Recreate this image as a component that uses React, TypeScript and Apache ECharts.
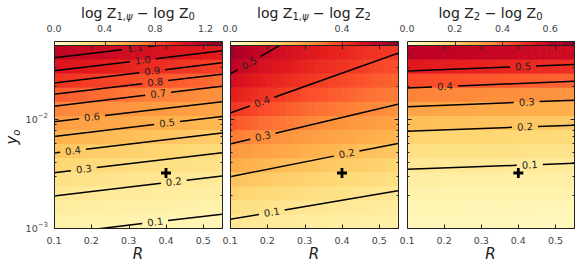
import React, { useEffect, useRef } from 'react';
import * as echarts from 'echarts';

const R_MIN = 0.1;
const R_MAX = 0.55;
const Y_MIN = 0.001;
const Y_MAX = 0.048;
const xTicks = [0.1, 0.2, 0.3, 0.4, 0.5];
const yMajorTicks = [0.001, 0.01];
const yMinorTicks = [0.002, 0.003, 0.004, 0.005, 0.006, 0.007, 0.008, 0.009, 0.02, 0.03, 0.04];

const panelTitles = [
  '{n|log Z}{s|1,}{si|ψ}{n| − log Z}{s|0}',
  '{n|log Z}{s|1,}{si|ψ}{n| − log Z}{s|2}',
  '{n|log Z}{s|2}{n| − log Z}{s|0}',
];

// Panel 1: log Z1,psi - log Z0  (contour y at R=0.1 and at R=0.55)
const levels1 = [0.1, 0.2, 0.3, 0.4, 0.5, 0.6, 0.7, 0.8, 0.9, 1.0, 1.1];
const yLeft1 = [8.8e-4, 1.97e-3, 3.22e-3, 4.88e-3, 6.92e-3, 9.48e-3, 1.315e-2, 1.694e-2, 2.153e-2, 2.78e-2, 3.66e-2];
const yRight1 = [1.34e-3, 3.0e-3, 4.92e-3, 7.45e-3, 1.057e-2, 1.449e-2, 2.01e-2, 2.59e-2, 3.29e-2, 4.25e-2, 5.6e-2];
const labelR1 = [0.371, 0.421, 0.18, 0.151, 0.403, 0.202, 0.379, 0.371, 0.363, 0.338, 0.317];
const cbMax1 = 1.33;
const cbStep1 = 0.4;

// Panel 2: log Z1,psi - log Z2
const levels2 = [0.1, 0.2, 0.3, 0.4, 0.5];
const yLeft2 = [1.2e-3, 2.96e-3, 5.9e-3, 1.135e-2, 2.59e-2];
const yRight2 = [2.2e-3, 5.98e-3, 1.374e-2, 4.04e-2, 0.202];
const labelR2 = [0.212, 0.4125, 0.188, 0.186, 0.151];
const cbMax2 = 0.6;
const cbStep2 = 0.4;

// Panel 3: log Z2 - log Z0
const levels3 = [0.1, 0.2, 0.3, 0.4, 0.5];
const yLeft3 = [3.46e-3, 7.76e-3, 1.297e-2, 1.936e-2, 2.77e-2];
const yRight3 = [3.93e-3, 8.81e-3, 1.494e-2, 2.23e-2, 3.18e-2];
const labelR3 = [0.431, 0.418, 0.4225, 0.2024, 0.4126];
const cbMax3 = 0.7;
const cbStep3 = 0.2;

const markerR = 0.4;
const markerY = 0.0032;

const YLORRD = ['#ffffcc', '#ffeda0', '#fed976', '#feb24c', '#fd8d3c', '#fc4e2a', '#e31a1c', '#bd0026', '#800026'];

function hexToRgb(h: string) {
  return [parseInt(h.slice(1, 3), 16), parseInt(h.slice(3, 5), 16), parseInt(h.slice(5, 7), 16)];
}
const STOPS = YLORRD.map(hexToRgb);
function cmap(t: number) {
  const c = Math.max(0, Math.min(1, t));
  const s = c * 8;
  const i = Math.min(7, Math.floor(s));
  const f = s - i;
  const a = STOPS[i];
  const b = STOPS[i + 1];
  const r = Math.round(a[0] + (b[0] - a[0]) * f);
  const g = Math.round(a[1] + (b[1] - a[1]) * f);
  const bl = Math.round(a[2] + (b[2] - a[2]) * f);
  return `rgb(${r},${g},${bl})`;
}

function fieldValue(levels: number[], yL: number[], yR: number[], R: number, ly: number) {
  const t = (R - R_MIN) / (R_MAX - R_MIN);
  const ls = levels.map((_, k) => Math.log10(yL[k]) + (Math.log10(yR[k]) - Math.log10(yL[k])) * t);
  const n = levels.length;
  if (ly < ls[0]) {
    // below the lowest contour: continue in log(value) space
    const slope = (Math.log10(levels[1]) - Math.log10(levels[0])) / (ls[1] - ls[0]);
    return Math.pow(10, Math.log10(levels[0]) + slope * (ly - ls[0]));
  }
  let k = n - 2;
  for (let i = 0; i < n - 1; i++) {
    if (ly >= ls[i] && ly < ls[i + 1]) { k = i; break; }
  }
  return levels[k] + ((levels[k + 1] - levels[k]) * (ly - ls[k])) / (ls[k + 1] - ls[k]);
}

const panels = [
  { left: 54, width: 168, levels: levels1, yL: yLeft1, yR: yRight1, labelR: labelR1, cbMax: cbMax1, cbStep: cbStep1 },
  { left: 230, width: 168, levels: levels2, yL: yLeft2, yR: yRight2, labelR: labelR2, cbMax: cbMax2, cbStep: cbStep2 },
  { left: 407, width: 167, levels: levels3, yL: yLeft3, yR: yRight3, labelR: labelR3, cbMax: cbMax3, cbStep: cbStep3 },
];

const PLOT_TOP = 45;
const PLOT_H = 183;
const CB_TOP = 41;
const CB_H = 4;
const FONT = 'DejaVu Sans';
const N_ROWS = 13;
const N_COLS = 24;

function px(v: number) {
  return Math.round(v) + 0.5;
}

function isMultiple(v: number, step: number) {
  const q = v / step;
  return Math.abs(q - Math.round(q)) < 1e-6;
}

export default function App() {
  const ref = useRef<HTMLDivElement>(null);
  useEffect(() => {
    document.body.style.margin = '0';
    const chart = echarts.init(ref.current!, undefined, { renderer: 'svg' });

    const grids: any[] = [];
    const xAxes: any[] = [];
    const yAxes: any[] = [];
    const series: any[] = [];
    const graphics: any[] = [];

    panels.forEach((p, i) => {
      grids.push({ left: p.left, top: PLOT_TOP, width: p.width, height: PLOT_H, containLabel: false, outerBoundsMode: 'none' });
      xAxes.push({
        type: 'value', gridIndex: i, min: R_MIN, max: R_MAX, interval: 0.1,
        axisLine: { show: false }, axisTick: { show: false }, splitLine: { show: false },
        axisLabel: {
          fontSize: 9.5, color: '#444', margin: 7, fontFamily: FONT,
          formatter: (v: number) => (isMultiple(v, 0.1) ? v.toFixed(1) : ''),
        },
      });
      yAxes.push({
        type: 'log', logBase: 10, gridIndex: i, min: Y_MIN, max: Y_MAX,
        axisLine: { show: false }, axisTick: { show: false }, splitLine: { show: false }, minorTick: { show: false },
        axisLabel: {
          show: i === 0, margin: 6, fontFamily: FONT,
          formatter: (v: number) => {
            const e = Math.log10(v);
            if (Math.abs(e - Math.round(e)) > 1e-6) return '';
            return '{a|10}{b|−' + Math.abs(Math.round(e)) + '}';
          },
          rich: {
            a: { fontSize: 9.5, color: '#444', fontFamily: FONT, lineHeight: 11, verticalAlign: 'bottom' },
            b: { fontSize: 7, color: '#444', fontFamily: FONT, lineHeight: 8, padding: [0, 0, 5, 0], verticalAlign: 'bottom' },
          },
        },
      });
    });

    panels.forEach((p, i) => {
      grids.push({ left: p.left, top: CB_TOP, width: p.width, height: CB_H, containLabel: false, outerBoundsMode: 'none' });
      xAxes.push({
        type: 'value', gridIndex: 3 + i, position: 'top', min: 0, max: p.cbMax, interval: p.cbStep,
        axisLine: { show: false }, axisTick: { show: false }, splitLine: { show: false },
        axisLabel: {
          fontSize: 9.5, color: '#444', margin: 8, fontFamily: FONT,
          formatter: (v: number) => (isMultiple(v, p.cbStep) ? v.toFixed(1) : ''),
        },
      });
      yAxes.push({ type: 'value', gridIndex: 3 + i, min: 0, max: 1, show: false });
    });

    panels.forEach((p, i) => {
      // heat cells
      const lyMin = Math.log10(Y_MIN);
      const lyMax = Math.log10(Y_MAX);
      const cells: number[][] = [];
      for (let r = 0; r < N_ROWS; r++) {
        const la = lyMin + ((lyMax - lyMin) * r) / N_ROWS;
        const lb = lyMin + ((lyMax - lyMin) * (r + 1)) / N_ROWS;
        for (let c = 0; c < N_COLS; c++) {
          const r0 = R_MIN + ((R_MAX - R_MIN) * c) / N_COLS;
          const r1 = R_MIN + ((R_MAX - R_MIN) * (c + 1)) / N_COLS;
          const v = Math.max(0, fieldValue(p.levels, p.yL, p.yR, (r0 + r1) / 2, (la + lb) / 2));
          cells.push([r0, Math.pow(10, la), r1, Math.pow(10, lb), v]);
        }
      }
      series.push({
        type: 'custom', xAxisIndex: i, yAxisIndex: i, z: 1, clip: true,
        encode: { x: [0, 2], y: [1, 3] },
        data: cells,
        renderItem: (params: any, api: any) => {
          const a = api.coord([api.value(0), api.value(3)]);
          const b = api.coord([api.value(2), api.value(1)]);
          return {
            type: 'rect',
            shape: { x: a[0], y: a[1], width: b[0] - a[0] + 0.6, height: b[1] - a[1] + 0.6 },
            style: { fill: cmap(api.value(4) / p.cbMax) },
          };
        },
      });

      // contours
      series.push({
        type: 'custom', xAxisIndex: i, yAxisIndex: i, z: 3, clip: true,
        encode: { x: [0, 2], y: [1, 3] },
        data: p.levels.map((lv, k) => [R_MIN, p.yL[k], R_MAX, p.yR[k], p.labelR[k], lv]),
        renderItem: (params: any, api: any) => {
          const a = api.coord([api.value(0), api.value(1)]);
          const b = api.coord([api.value(2), api.value(3)]);
          const t = (api.value(4) - R_MIN) / (R_MAX - R_MIN);
          const lx = a[0] + (b[0] - a[0]) * t;
          const ly = a[1] + (b[1] - a[1]) * t;
          const dx = b[0] - a[0];
          const dy = b[1] - a[1];
          const L = Math.hypot(dx, dy);
          const ux = dx / L;
          const uy = dy / L;
          const g = 13;
          const ls = { stroke: '#000', lineWidth: 1.5 };
          return {
            type: 'group',
            children: [
              { type: 'line', shape: { x1: a[0], y1: a[1], x2: lx - ux * g, y2: ly - uy * g }, style: ls },
              { type: 'line', shape: { x1: lx + ux * g, y1: ly + uy * g, x2: b[0], y2: b[1] }, style: ls },
              {
                type: 'text', x: lx, y: ly, rotation: -Math.atan2(uy, ux),
                style: { text: Number(api.value(5)).toFixed(1), fontSize: 10, fontFamily: FONT, fill: '#222', align: 'center', verticalAlign: 'middle' },
              },
            ],
          };
        },
      });

      // marker
      series.push({
        type: 'scatter', xAxisIndex: i, yAxisIndex: i, z: 4,
        symbol: 'path://M3.6,0H6.4V3.6H10V6.4H6.4V10H3.6V6.4H0V3.6H3.6Z', symbolSize: 10,
        itemStyle: { color: '#000', opacity: 1 },
        data: [[markerR, markerY]],
      });

      // frame and ticks
      series.push({
        type: 'custom', xAxisIndex: i, yAxisIndex: i, z: 5, clip: false,
        data: [[R_MIN, Y_MIN]],
        renderItem: (params: any, api: any) => {
          const tl = api.coord([R_MIN, Y_MAX]);
          const br = api.coord([R_MAX, Y_MIN]);
          const left = px(tl[0]);
          const right = px(br[0]);
          const top = px(tl[1]);
          const bottom = px(br[1]);
          const st = { stroke: '#222', lineWidth: 1 };
          const ch: any[] = [];
          xTicks.forEach((v) => {
            const x = px(api.coord([v, Y_MIN])[0]);
            ch.push({ type: 'line', shape: { x1: x, y1: bottom, x2: x, y2: bottom - 4 }, style: st });
            ch.push({ type: 'line', shape: { x1: x, y1: top, x2: x, y2: top + 4 }, style: st });
          });
          yMajorTicks.forEach((v) => {
            const y = px(api.coord([R_MIN, v])[1]);
            ch.push({ type: 'line', shape: { x1: left, y1: y, x2: left + 4, y2: y }, style: st });
            ch.push({ type: 'line', shape: { x1: right, y1: y, x2: right - 4, y2: y }, style: st });
          });
          yMinorTicks.forEach((v) => {
            const y = px(api.coord([R_MIN, v])[1]);
            ch.push({ type: 'line', shape: { x1: left, y1: y, x2: left + 2, y2: y }, style: st });
            ch.push({ type: 'line', shape: { x1: right, y1: y, x2: right - 2, y2: y }, style: st });
          });
          ch.push({ type: 'rect', shape: { x: left, y: top, width: right - left, height: bottom - top }, style: { fill: 'none', stroke: '#222', lineWidth: 1 } });
          return { type: 'group', children: ch };
        },
      });

      // colorbar
      series.push({
        type: 'custom', xAxisIndex: 3 + i, yAxisIndex: 3 + i, z: 5, clip: false,
        data: [[0, 0]],
        renderItem: (params: any, api: any) => {
          const ch: any[] = [];
          const N = 60;
          for (let s = 0; s < N; s++) {
            const v0 = (p.cbMax * s) / N;
            const v1 = (p.cbMax * (s + 1)) / N;
            const a = api.coord([v0, 1]);
            const b = api.coord([v1, 0]);
            ch.push({ type: 'rect', shape: { x: a[0], y: a[1], width: b[0] - a[0] + 0.5, height: b[1] - a[1] }, style: { fill: cmap((v0 + v1) / 2 / p.cbMax) } });
          }
          const tl = api.coord([0, 1]);
          const br = api.coord([p.cbMax, 0]);
          for (let v = p.cbStep; v < p.cbMax - 1e-6; v += p.cbStep) {
            const x = px(api.coord([v, 0])[0]);
            ch.push({ type: 'line', shape: { x1: x, y1: tl[1], x2: x, y2: br[1] }, style: { stroke: '#333', lineWidth: 1 } });
          }
          ch.push({ type: 'rect', shape: { x: px(tl[0]), y: px(tl[1]), width: Math.round(br[0] - tl[0]), height: Math.round(br[1] - tl[1]) }, style: { fill: 'none', stroke: '#222', lineWidth: 1 } });
          return { type: 'group', children: ch };
        },
      });

      // titles and axis labels
      const cx = p.left + p.width / 2;
      graphics.push({
        type: 'text', x: cx, y: 13.5,
        style: {
          text: panelTitles[i], align: 'center', verticalAlign: 'middle',
          rich: {
            n: { fontSize: 14, fontFamily: FONT, fill: '#222', color: '#222', lineHeight: 16, verticalAlign: 'top' },
            s: { fontSize: 10, fontFamily: FONT, fill: '#222', color: '#222', lineHeight: 10, padding: [6, 0, 0, 0], verticalAlign: 'top' },
            si: { fontSize: 10, fontFamily: FONT, fontStyle: 'italic', fill: '#222', color: '#222', lineHeight: 10, padding: [6, 0, 0, 0], verticalAlign: 'top' },
          },
        },
      });
      graphics.push({
        type: 'text', x: cx, y: 254,
        style: { text: 'R', fontSize: 15, fontStyle: 'italic', fontFamily: FONT, fill: '#222', align: 'center', verticalAlign: 'middle' },
      });
    });

    graphics.push({
      type: 'text', x: 13, y: 137, rotation: Math.PI / 2,
      style: {
        text: '{n|y}{s|o}', align: 'center', verticalAlign: 'middle',
        rich: {
          n: { fontSize: 15, fontStyle: 'italic', fontFamily: FONT, fill: '#222', color: '#222', lineHeight: 17, verticalAlign: 'top' },
          s: { fontSize: 10, fontStyle: 'italic', fontFamily: FONT, fill: '#222', color: '#222', lineHeight: 10, padding: [7, 0, 0, 0], verticalAlign: 'top' },
        },
      },
    });

    chart.setOption({
      animation: false,
      textStyle: { fontFamily: FONT },
      grid: grids,
      xAxis: xAxes,
      yAxis: yAxes,
      series,
      graphic: graphics,
    });
    return () => chart.dispose();
  }, []);
  return <div ref={ref} style={{ width: 582, height: 270 }} />;
}
